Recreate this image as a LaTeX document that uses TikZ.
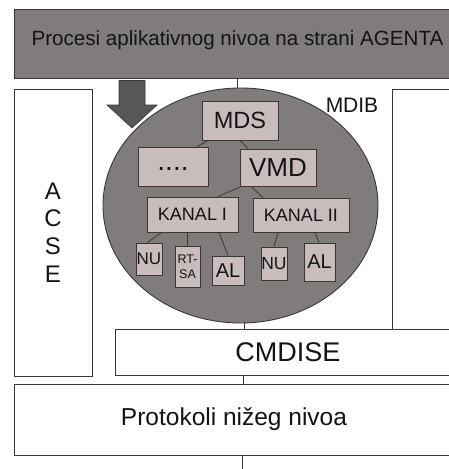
\documentclass[tikz,border=0pt]{standalone}
\usepackage{fontspec}
\setmainfont{Liberation Sans}
\usetikzlibrary{shapes.geometric}

\definecolor{darkfill}{HTML}{807C7C}
\definecolor{lightfill}{HTML}{C8BCBC}
\definecolor{arrowfill}{HTML}{575757}
\definecolor{edge}{HTML}{383838}
\definecolor{ink}{HTML}{141414}

% font size with matching baseline skip
\newcommand{\setfs}[2]{\fontsize{#1}{#2}\selectfont}

\tikzset{
  layer/.style={rectangle, draw=edge, line width=0.9pt, inner sep=0pt, text=ink},
  plain/.style={layer, fill=white},
  item/.style={rectangle, draw=edge, line width=0.8pt, fill=lightfill, inner sep=0pt, text=ink},
  link/.style={draw=edge, line width=0.8pt},
}

\begin{document}
\begin{tikzpicture}[x=1pt,y=-1pt]
\useasboundingbox (0,0) rectangle (448,469);

% outer layers
\node[layer, fill=darkfill, minimum width=447pt, minimum height=69pt,
      text height=14.6pt, text depth=10.2pt, font=\setfs{20.6}{24}]
  (top) at (237.5,43.5) {Procesi aplikativnog nivoa na strani AGENTA};
\node[plain, minimum width=78pt, minimum height=287pt, align=center,
      font=\setfs{24}{27.6}]
  (acse) at (53,232.5) {A\\C\\S\\E};
\node[plain, minimum width=78pt, minimum height=240pt] (rightbox) at (431,209) {};
\node[plain, minimum width=346pt, minimum height=46pt, font=\setfs{27}{30}]
  (cmdise) at (288,352) {CMDISE};
\node[plain, minimum width=440pt, minimum height=71pt, font=\setfs{24.5}{28}]
  (proto) at (234,419.5) {Protokoli nižeg nivoa};

% managed information base
\node[ellipse, draw=edge, line width=0.9pt, fill=darkfill, inner sep=0pt,
      minimum width=275pt, minimum height=235pt] (mdib) at (240.5,205.5) {};
\node[anchor=base, text=ink, inner sep=0pt, font=\setfs{21}{24}]
  (mdiblabel) at (352,112) {MDIB};

% object tree
\node[item, minimum width=76pt, minimum height=39pt, font=\setfs{23.5}{26}]
  (mds) at (240,120.5) {MDS};
\node[item, minimum width=70pt, minimum height=39pt, text height=8pt, text depth=0pt,
      font=\setfs{28}{30}]
  (dots) at (173,166.5) {....};
\node[item, minimum width=76pt, minimum height=37pt, font=\setfs{26}{28}]
  (vmd) at (278,167.5) {VMD};
\node[item, minimum width=91pt, minimum height=35pt, font=\setfs{18}{20}]
  (kanal1) at (192.5,214.5) {KANAL I};
\node[item, minimum width=96pt, minimum height=34pt, font=\setfs{18}{20}]
  (kanal2) at (301,215) {KANAL II};
\node[item, minimum width=26pt, minimum height=32pt, font=\setfs{17}{19}]
  (nu1) at (149,259) {NU};
\node[item, minimum width=25pt, minimum height=41pt, align=center, font=\setfs{12.5}{15}]
  (rtsa) at (187.5,266.5) {RT-\\SA};
\node[item, minimum width=32pt, minimum height=29pt, font=\setfs{20}{22}]
  (al1) at (228,270.5) {AL};
\node[item, minimum width=26pt, minimum height=33pt, font=\setfs{17.5}{19}]
  (nu2) at (274,263.5) {NU};
\node[item, minimum width=31pt, minimum height=38pt, font=\setfs{20}{22}]
  (al2) at (319.5,262) {AL};

% tree links
\draw[link] ([xshift=-32pt]mds.south) -- ([xshift=24pt]dots.north);
\draw[link] (mds.south) -- ([xshift=-30pt]vmd.north);
\draw[link] ([xshift=-37pt]vmd.south) -- ([xshift=25.5pt]kanal1.north);
\draw[link] ([xshift=-27pt]vmd.south) -- ([xshift=-38pt]kanal2.north);
\draw[link] ([xshift=-30.5pt]kanal1.south) -- ([xshift=-2pt]nu1.north);
\draw[link] ([xshift=-5.5pt]kanal1.south) -- ([xshift=-0.5pt]rtsa.north);
\draw[link] ([xshift=26.5pt]kanal1.south) -- (al1.north);
\draw[link] ([xshift=-23pt]kanal2.south) -- (nu2.north);
\draw[link] ([xshift=14pt]kanal2.south) -- ([xshift=-0.5pt]al2.north);

% links between layers
\coordinate (bottomend) at (242,469);
\draw[link] (top.south -| 237,0) -- (mdib.north -| 237,0);
\draw[link] (mdib.south -| 244,0) -- (cmdise.north -| 244,0);
\draw[link] (cmdise.south -| 243,0) -- (proto.north -| 243,0);
\draw[link] (proto.south -| 242,0) -- (bottomend);

% block arrow into the MIB
\draw[draw=edge, line width=0.6pt, fill=arrowfill]
  (119,80.5) -- (145,80.5) -- (145,105) -- (157,105) -- (132,128)
  -- (107,105) -- (119,105) -- cycle;
\end{tikzpicture}
\end{document}
